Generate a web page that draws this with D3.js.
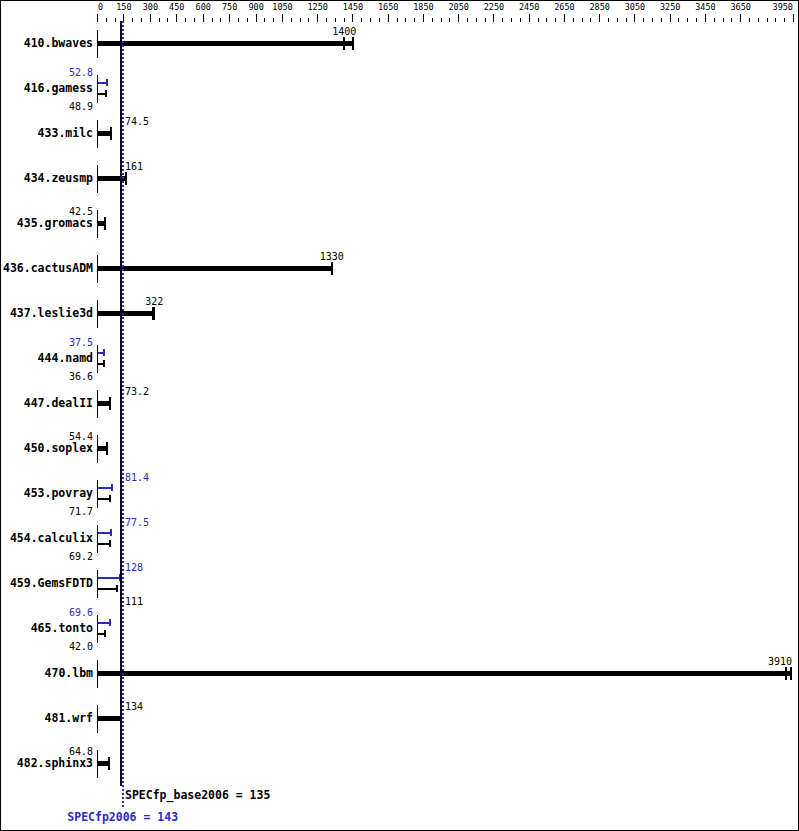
<!DOCTYPE html>
<html>
<head>
<meta charset="utf-8">
<script src="https://cdn.jsdelivr.net/npm/d3@7"></script>
<style>
  html, body { margin: 0; padding: 0; background: #fff; }
  svg { display: block; }
  text { font-family: "DejaVu Sans Mono", monospace; }
</style>
</head>
<body>
<script>
// ---- data ----
const benchmarks = ["410.bwaves","416.gamess","433.milc","434.zeusmp","435.gromacs","436.cactusADM","437.leslie3d","444.namd","447.dealII","450.soplex","453.povray","454.calculix","459.GemsFDTD","465.tonto","470.lbm","481.wrf","482.sphinx3"];
const baseValues = [1400, 48.9, 74.5, 161, 42.5, 1330, 322, 36.6, 73.2, 54.4, 71.7, 69.2, 111, 42.0, 3910, 134, 64.8];
const peakValues = [null, 52.8, null, null, null, null, null, 37.5, null, null, 81.4, 77.5, 128, 69.6, null, null, null];
const baseOtherRuns = [1449, null, null, null, null, null, 311, null, null, null, null, null, null, null, 3933, null, null];
const tickLabels = [0,150,300,450,600,750,900,1050,1250,1450,1650,1850,2050,2250,2450,2650,2850,3050,3250,3450,3650,3950];
const minorStep = 50;
const axisMax = 3950;
const specBase = 135;
const specPeak = 143;
const baseTitle = "SPECfp_base2006";
const peakTitle = "SPECfp2006";

// ---- layout ----
const W = 799, H = 831;
const BLUE = "#2b2bbd";
const rowTop = 43, rowStep = 45, nameX = 93;

const svg = d3.select("body").append("svg").attr("width", W).attr("height", H);
const x = d3.scaleLinear().domain([0, axisMax]).range([97.5, 793.5]);
const y = d3.scaleLinear().domain([0, 1]).range([rowTop, rowTop + rowStep]);

svg.append("rect").attr("x", 0.5).attr("y", 0.5).attr("width", W - 1).attr("height", H - 1)
  .attr("fill", "none").attr("stroke", "#000");

// ---- top ticks ----
const ticksAll = d3.range(0, axisMax + 1, minorStep);
const g = svg.append("g").attr("shape-rendering", "crispEdges");
g.selectAll("line.tick").data(ticksAll).join("line")
  .attr("x1", d => x(d)).attr("x2", d => x(d))
  .attr("y1", d => tickLabels.includes(d) ? 14 : 18).attr("y2", 22)
  .attr("stroke", "#000").attr("stroke-width", 1);

svg.selectAll("text.tl").data(tickLabels).join("text")
  .attr("font-size", "8.5px")
  .attr("y", 10)
  .text(d => d)
  .each(function(d) {
    const w = this.getComputedTextLength();
    let left = x(d) - w / 2;
    if (left < 98) left = 98;
    if (left + w > 793) left = 793 - w;
    d3.select(this).attr("x", left);
  });

// ---- label placement helper ----
const fmt = v => v < 100 ? v.toFixed(1) : String(Math.round(v));
const refL = x(specBase) - 1, refR = x(specPeak) + 1;
function placeLabel(v, baseline, color) {
  const t = fmt(v);
  const cx = x(v), hw = 3.2 * t.length;
  const txt = svg.append("text").attr("font-size", "10px").attr("fill", color)
    .attr("y", baseline).text(t);
  if (cx - hw < x(0)) {
    txt.attr("x", nameX).attr("text-anchor", "end");
  } else if (cx - hw <= refR && cx + hw >= refL) {
    txt.attr("x", 125);
  } else {
    const w = txt.node().getComputedTextLength();
    let left = cx - w / 2;
    if (left + w > 792) left = 792 - w;
    txt.attr("x", left);
  }
}

// ---- rows ----
benchmarks.forEach((name, i) => {
  const cy = y(i);
  const rg = svg.append("g").attr("shape-rendering", "crispEdges");
  rg.append("line").attr("x1", x(0)).attr("x2", x(0)).attr("y1", cy - 13).attr("y2", cy + 15)
    .attr("stroke", "#000").attr("stroke-width", 1);
  svg.append("text").attr("x", nameX).attr("y", cy + 4).attr("text-anchor", "end")
    .attr("font-size", "11.5px").attr("font-weight", "bold").text(name);

  const b = baseValues[i], p = peakValues[i], o = baseOtherRuns[i];
  if (p == null) {
    const end = o != null ? Math.max(b, o) : b;
    rg.append("rect").attr("x", x(0)).attr("y", cy - 2.5).attr("width", x(end) - x(0)).attr("height", 5)
      .attr("fill", "#000");
    rg.append("rect").attr("x", x(b) - 1).attr("y", cy - 6).attr("width", 2).attr("height", 13).attr("fill", "#000");
    if (o != null) {
      rg.append("rect").attr("x", x(o) - 0.5).attr("y", cy - 6).attr("width", 1.5).attr("height", 13).attr("fill", "#000");
    }
    placeLabel(b, cy - 8.5, "#000");
  } else {
    const py = cy - 5.5, by = cy + 5.5;
    rg.append("rect").attr("x", x(0)).attr("y", py - 1).attr("width", x(p) - x(0)).attr("height", 2).attr("fill", BLUE);
    rg.append("rect").attr("x", x(p) - 1).attr("y", py - 3.5).attr("width", 2).attr("height", 7).attr("fill", BLUE);
    rg.append("rect").attr("x", x(0)).attr("y", by - 1).attr("width", x(b) - x(0)).attr("height", 2).attr("fill", "#000");
    rg.append("rect").attr("x", x(b) - 1).attr("y", by - 3.5).attr("width", 2).attr("height", 7).attr("fill", "#000");
    placeLabel(p, cy - 12.3, BLUE);
    placeLabel(b, cy + 22, "#000");
  }
});

// ---- reference lines ----
svg.append("line").attr("x1", x(specBase)).attr("x2", x(specBase)).attr("y1", 21).attr("y2", 786)
  .attr("stroke", "#000").attr("stroke-width", 2).attr("shape-rendering", "crispEdges");
svg.append("line").attr("x1", x(specPeak)).attr("x2", x(specPeak)).attr("y1", 21).attr("y2", 808)
  .attr("stroke", BLUE).attr("stroke-width", 2).attr("stroke-dasharray", "2,2").attr("shape-rendering", "crispEdges");

svg.append("text").attr("x", 125).attr("y", 799).attr("font-size", "11.5px").attr("font-weight", "bold")
  .text(baseTitle + " = " + specBase);
svg.append("text").attr("x", x(specPeak)).attr("y", 821).attr("text-anchor", "middle")
  .attr("font-size", "11.5px").attr("font-weight", "bold").attr("fill", BLUE)
  .text(peakTitle + " = " + specPeak);
</script>
</body>
</html>
